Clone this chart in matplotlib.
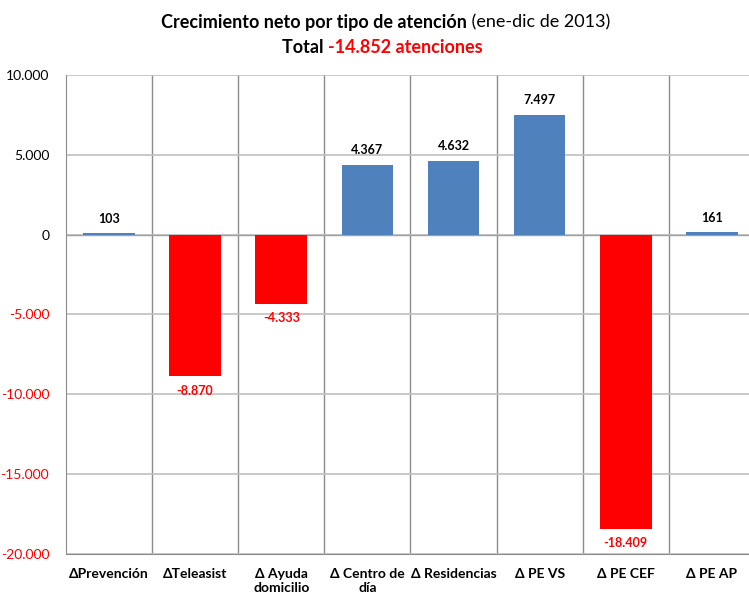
import matplotlib
matplotlib.use("Agg")
import matplotlib.pyplot as plt
from matplotlib.ticker import FuncFormatter

plt.rcParams['font.family'] = ['Lato', 'DejaVu Sans']

categories = ['ΔPrevención', 'ΔTeleasist', 'Δ Ayuda\ndomicilio', 'Δ Centro de\ndía',
              'Δ Residencias', 'Δ PE VS', 'Δ PE CEF', 'Δ PE AP']
values = [103, -8870, -4333, 4367, 4632, 7497, -18409, 161]
y_ticks = [-20000, -15000, -10000, -5000, 0, 5000, 10000]

BLUE = '#4f81bd'
RED = '#ff0000'


def fmt(v):
    return f"{v:,.0f}".replace(',', '.')


fig = plt.figure(figsize=(7.49, 5.94), dpi=100)
ax = fig.add_axes([0.088, 0.0673, 0.92, 0.8067])

x = [i + 0.5 for i in range(len(values))]
colors = [BLUE if v >= 0 else RED for v in values]
ax.bar(x, values, width=0.6, color=colors, zorder=3)

ax.set_xlim(0, len(values))
ax.set_ylim(-20000, 10000)
ax.set_yticks(y_ticks)
ax.yaxis.set_major_formatter(FuncFormatter(lambda v, p: fmt(v)))
ax.grid(axis='y', color='#c0c0c0', linewidth=1.2, zorder=0)
for b in range(1, len(values)):
    ax.axvline(b, color='#8c8c8c', linewidth=1.0, zorder=1)
ax.axhline(0, color='#a0a0a0', linewidth=1.0, zorder=2)

for s in ['top', 'right']:
    ax.spines[s].set_visible(False)
for s in ['left', 'bottom']:
    ax.spines[s].set_color('#8c8c8c')

ax.tick_params(axis='y', length=0, labelsize=10, pad=12)
for lbl, t in zip(ax.get_yticklabels(), y_ticks):
    lbl.set_color(RED if t < 0 else 'black')
ax.set_xticks(x)
ax.set_xticklabels(categories, fontweight='bold', fontsize=10, linespacing=1.25)
ax.tick_params(axis='x', length=0, pad=10)

for xi, v in zip(x, values):
    if v >= 0:
        ax.annotate(fmt(v), (xi, v), xytext=(0, 6), textcoords='offset points',
                    ha='center', va='bottom', fontsize=9, fontweight='bold', color='black')
    else:
        ax.annotate(fmt(v), (xi, v), xytext=(0, -6), textcoords='offset points',
                    ha='center', va='top', fontsize=9, fontweight='bold', color=RED)

# title built from pieces, then centred
line1 = [("Crecimiento neto por tipo de atención", 'bold', 'black'),
         (" (ene-dic de 2013)", 'normal', 'black')]
line2 = [("Total ", 'bold', 'black'), ("-14.852 atenciones", 'bold', RED)]


def draw_line(parts, cx, y):
    texts = [fig.text(0, y, p, fontweight=w, color=c, fontsize=13, va='baseline')
             for p, w, c in parts]
    fig.canvas.draw()
    r = fig.canvas.get_renderer()
    widths = [t.get_window_extent(r).width / fig.bbox.width for t in texts]
    left = cx - sum(widths) / 2
    for t, w in zip(texts, widths):
        t.set_x(left)
        left += w


draw_line(line1, 0.515, 0.953)
draw_line(line2, 0.51, 0.91)

fig.savefig('out.png', dpi=100)
